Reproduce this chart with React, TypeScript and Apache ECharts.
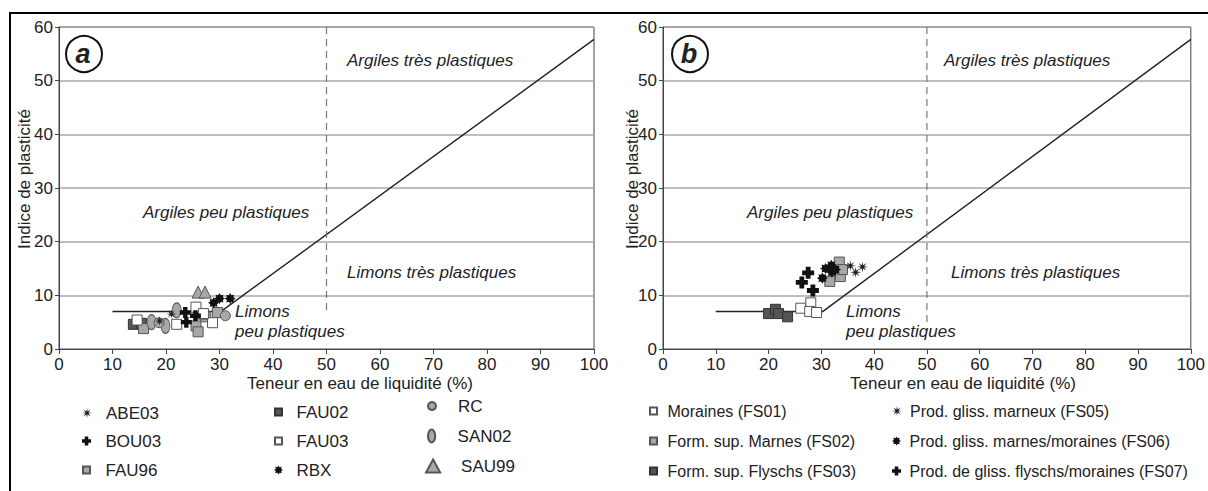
import React, { useEffect, useRef } from "react";
import * as echarts from "echarts";

// ---------- Data (Limite de liquidité %, Indice de plasticité) ----------
const xTicks = [0, 10, 20, 30, 40, 50, 60, 70, 80, 90, 100];
const yTicks = [0, 10, 20, 30, 40, 50, 60];

// A-line (Casagrande) and the LL = 50 limit
const aLine = [[10, 7], [30.3, 7], [100, 57.7]];
const limitA = [[50, 60], [50, 7]];
const limitB = [[50, 60], [50, 5]];

// Panel a
const ABE03 = [[21.0, 6.5], [18.8, 5.2]];
const BOU03 = [[23.6, 6.8], [23.8, 5.0], [25.5, 6.2]];
const FAU96 = [[15.8, 3.8], [25.6, 4.3], [26.0, 3.2], [27.4, 6.0], [29.6, 6.8], [26.8, 6.5]];
const FAU02 = [[13.9, 4.6], [15.4, 4.8]];
const FAU03 = [[14.6, 5.4], [22.0, 4.6], [25.6, 7.8], [28.7, 4.9], [27.0, 6.6]];
const RBX = [[28.9, 8.6], [30.0, 9.4], [32.0, 9.4]];
const RC = [[31.1, 6.2], [18.7, 4.9]];
const SAN02 = [[22.0, 7.2], [17.3, 5.0], [19.9, 4.3]];
const SAU99 = [[26.0, 10.6], [27.3, 10.6]];

// Panel b
const FS01 = [[26.1, 7.6], [28.0, 8.6], [27.8, 7.0], [29.1, 6.8]];
const FS02 = [[31.6, 12.6], [33.4, 16.2], [33.6, 13.5], [34.0, 14.8]];
const FS03 = [[20.0, 6.6], [21.3, 7.4], [21.9, 6.6], [23.6, 6.0]];
const FS05 = [[35.5, 15.5], [36.5, 14.3], [37.8, 15.3]];
const FS06 = [[30.2, 13.2], [30.8, 15.0], [31.9, 15.6], [32.0, 14.3], [32.7, 14.8]];
const FS07 = [[26.3, 12.4], [27.5, 14.2], [28.4, 10.9]];

const xTitle = "Teneur en eau de liquidité (%)";
const yTitle = "Indice de plasticité";

// ---------- Symbols ----------
function starPath(R: number, r: number, n: number) {
  const pts: string[] = [];
  for (let i = 0; i < 2 * n; i++) {
    const a = (Math.PI / n) * i - Math.PI / 2;
    const rad = i % 2 === 0 ? R : r;
    pts.push(`${(rad * Math.cos(a) + 10).toFixed(2)},${(rad * Math.sin(a) + 10).toFixed(2)}`);
  }
  return "path://M" + pts.join("L") + "Z";
}
const SQUARE = "path://M0,0L10,0L10,10L0,10Z";
const ELLIPSE = "path://M5,0A5,9 0 1,1 5,18A5,9 0 1,1 5,0Z";
const TRIANGLE = "path://M6,0L12,11L0,11Z";
const PLUS = "path://M3,0L7,0L7,3L10,3L10,7L7,7L7,10L3,10L3,7L0,7L0,3L3,3Z";
const ASTER = starPath(10, 3.2, 8);
const BOLDSTAR = starPath(10, 6.5, 8);

const FONT = '"Liberation Sans", Arial, sans-serif';

export default function App() {
  const ref = useRef<HTMLDivElement>(null);

  useEffect(() => {
    if (!ref.current) return;
    const chart = echarts.init(ref.current, undefined, { renderer: "svg" });

    const grids = [
      { left: 59, top: 27, width: 535, height: 322 },
      { left: 663, top: 27, width: 535, height: 322 },
    ].map((g) => ({ ...g, show: true, borderColor: "#444", borderWidth: 1, backgroundColor: "transparent" }));

    const xAxes = [0, 1].map((i) => ({
      type: "value",
      gridIndex: i,
      min: xTicks[0],
      max: xTicks[xTicks.length - 1],
      interval: 10,
      axisLine: { show: true, onZero: false, lineStyle: { color: "#444", width: 1 } },
      axisTick: { show: true, length: 5, lineStyle: { color: "#444" } },
      axisLabel: { fontSize: 17, color: "#222", fontFamily: FONT, margin: 7 },
      splitLine: { show: false },
    }));
    const yAxes = [0, 1].map((i) => ({
      type: "value",
      gridIndex: i,
      min: yTicks[0],
      max: yTicks[yTicks.length - 1],
      interval: 10,
      axisLine: { show: true, lineStyle: { color: "#444", width: 1 } },
      axisTick: { show: true, length: 4, lineStyle: { color: "#444" } },
      axisLabel: { fontSize: 17, color: "#222", fontFamily: FONT, margin: 6 },
      splitLine: { show: true, lineStyle: { color: "#a8a8a8", width: 1.5 } },
    }));

    const lineSeries = (data: number[][], idx: number, dashed: boolean) => ({
      type: "line",
      xAxisIndex: idx,
      yAxisIndex: idx,
      data,
      symbol: "none",
      silent: true,
      z: 2,
      lineStyle: dashed
        ? { color: "#777", width: 1.2, type: [7, 5] }
        : { color: "#222", width: 1.4 },
    });

    const sc = (
      name: string,
      data: number[][],
      idx: number,
      symbol: string,
      size: number | number[],
      fill: string,
      border: string,
      bw = 1
    ) => ({
      type: "scatter",
      name,
      data,
      xAxisIndex: idx,
      yAxisIndex: idx,
      symbol,
      symbolSize: size,
      z: 3,
      itemStyle: { color: fill, borderColor: border, borderWidth: bw, opacity: 1 },
    });

    const series: any[] = [
      lineSeries(aLine, 0, false),
      lineSeries(limitA, 0, true),
      lineSeries(aLine, 1, false),
      lineSeries(limitB, 1, true),
      sc("SAU99", SAU99, 0, TRIANGLE, [12, 12], "#a8a8a8", "#555"),
      sc("FAU02", FAU02, 0, SQUARE, 10, "#555", "#333"),
      sc("FAU96", FAU96, 0, SQUARE, 10, "#a8a8a8", "#555"),
      sc("FAU03", FAU03, 0, SQUARE, 10, "#ffffff", "#555"),
      sc("SAN02", SAN02, 0, ELLIPSE, [9, 15], "#a8a8a8", "#555"),
      sc("RC", RC, 0, "circle", 10, "#a8a8a8", "#555"),
      sc("ABE03", ABE03, 0, ASTER, 10, "#222", "#222", 0),
      sc("BOU03", BOU03, 0, PLUS, 11, "#111", "#111", 0),
      sc("RBX", RBX, 0, BOLDSTAR, 11, "#111", "#111", 0),
      sc("Form. sup. Flyschs (FS03)", FS03, 1, SQUARE, 10, "#555", "#333"),
      sc("Moraines (FS01)", FS01, 1, SQUARE, 10, "#ffffff", "#555"),
      sc("Form. sup. Marnes (FS02)", FS02, 1, SQUARE, 10, "#a8a8a8", "#555"),
      sc("Prod. gliss. marneux (FS05)", FS05, 1, ASTER, 11, "#222", "#222", 0),
      sc("Prod. gliss. marnes/moraines (FS06)", FS06, 1, BOLDSTAR, 11, "#111", "#111", 0),
      sc("Prod. de gliss. flyschs/moraines (FS07)", FS07, 1, PLUS, 12, "#111", "#111", 0),
    ];

    // legend placement: [name, marker centre x, row centre y, text start x, icon size, font size]
    const legendItems: [string, number, number, number, number, number][] = [
      ["ABE03", 96, 413, 115, 10, 17],
      ["BOU03", 96, 441, 115, 9, 17],
      ["FAU96", 96, 470, 115, 7, 17],
      ["FAU02", 287, 412, 305, 7, 17],
      ["FAU03", 287, 441, 305, 7, 17],
      ["RBX", 287, 470, 305, 9, 17],
      ["RC", 448, 406, 474, 8, 17],
      ["SAN02", 448, 436, 474, 13, 17],
      ["SAU99", 448, 466, 476, 13, 17],
      ["Moraines (FS01)", 658, 411, 672, 7, 16],
      ["Form. sup. Marnes (FS02)", 658, 441, 672, 7, 16],
      ["Form. sup. Flyschs (FS03)", 658, 471, 672, 7, 16],
      ["Prod. gliss. marneux (FS05)", 900, 411, 913, 10, 16],
      ["Prod. gliss. marnes/moraines (FS06)", 900, 441, 913, 9, 16],
      ["Prod. de gliss. flyschs/moraines (FS07)", 900, 471, 913, 9, 16],
    ];
    const legend = legendItems.map(([name, mx, my, tx, h, fs]) => {
      const w = 2 * (tx - 5 - mx);
      return {
        data: [name],
        left: mx - w / 2,
        top: my - 9,
        padding: 0,
        itemWidth: w,
        itemHeight: h,
        selectedMode: false,
        symbolKeepAspect: true,
        textStyle: { fontSize: fs, lineHeight: 18, color: "#222", fontFamily: FONT },
      };
    });

    const txt = (text: string, x: number, y: number, opts: any = {}) => ({
      type: "text",
      x,
      y,
      silent: true,
      z: 10,
      ...opts,
      style: {
        text,
        fill: "#222",
        font: `${opts.font || "17px " + FONT}`,
        textAlign: opts.align || "left",
        align: opts.align || "left",
        textVerticalAlign: "middle",
        verticalAlign: "middle",
      },
    });
    const it = "italic 17px " + FONT;

    const panelText = (dx: number, letter: string, cx: number, pos: number[][]) => [
      { type: "circle", shape: { cx, cy: 54, r: 18 }, style: { fill: "#fff", stroke: "#111", lineWidth: 2 }, z: 10 },
      txt(letter, cx - 1, 54, { font: "italic bold 27px " + FONT, align: "center" }),
      txt("Argiles très plastiques", pos[0][0], pos[0][1], { font: it }),
      txt("Argiles peu plastiques", pos[1][0], pos[1][1], { font: it }),
      txt("Limons très plastiques", pos[2][0], pos[2][1], { font: it }),
      txt("Limons", pos[3][0], pos[3][1], { font: it }),
      txt("peu plastiques", pos[3][0], pos[3][1] + 20, { font: it }),
      txt(xTitle, dx, 383, { align: "center" }),
      txt(yTitle, dx === 360 ? 24 : 632, 179, { align: "center", rotation: Math.PI / 2 }),
    ];

    const graphic = [
      {
        type: "rect",
        shape: { x: 10, y: 13, width: 1400, height: 700 },
        style: { fill: "none", stroke: "#000", lineWidth: 2 },
        silent: true,
        z: 0,
      },
      ...panelText(360, "a", 84, [[347, 60], [143, 212], [347, 272], [235, 311]]),
      ...panelText(963, "b", 690, [[944, 60], [747, 212], [951, 272], [846, 311]]),
    ];

    chart.setOption({
      animation: false,
      backgroundColor: "#fff",
      grid: grids,
      xAxis: xAxes,
      yAxis: yAxes,
      legend,
      series,
      graphic,
    });

    return () => chart.dispose();
  }, []);

  return (
    <div
      ref={ref}
      style={{ position: "absolute", left: 0, top: 0, width: 1208, height: 491 }}
    />
  );
}
